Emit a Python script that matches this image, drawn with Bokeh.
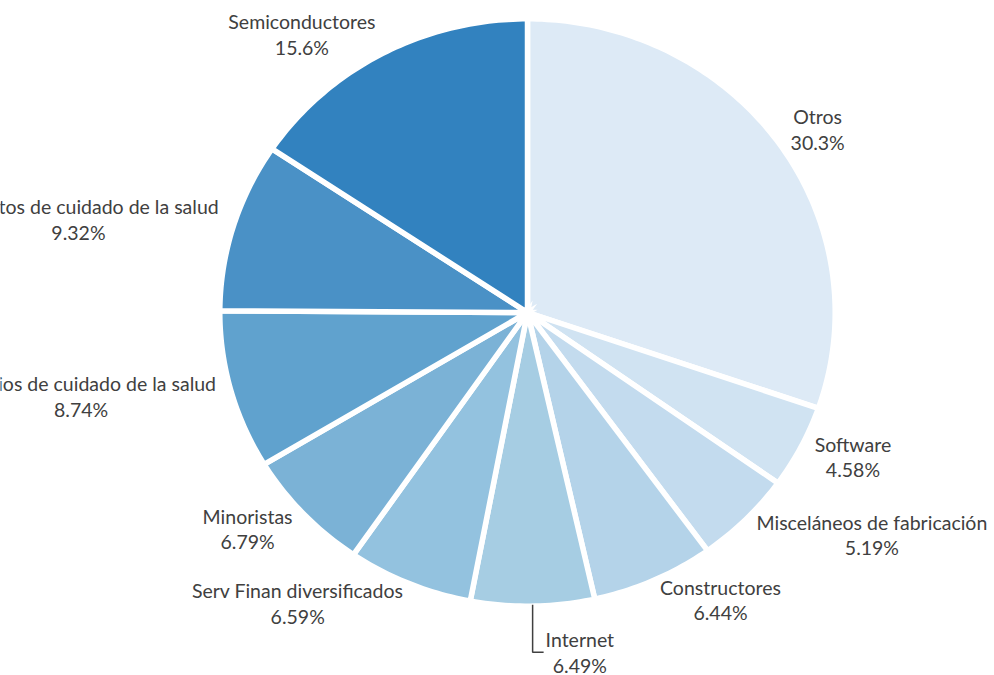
import math
from bokeh.plotting import figure
from bokeh.models import ColumnDataSource
from bokeh.embed import file_html
from bokeh.resources import INLINE
from bokeh.core.properties import value

# ---- data ----
categories = ["Otros", "Software", "Misceláneos de fabricación", "Constructores", "Internet",
              "Serv Finan diversificados", "Minoristas", "Servicios de cuidado de la salud",
              "Productos de cuidado de la salud", "Semiconductores"]
shares = [30.3, 4.58, 5.19, 6.44, 6.49, 6.59, 6.79, 8.74, 9.32, 15.6]
share_labels = ["30.3%", "4.58%", "5.19%", "6.44%", "6.49%", "6.59%", "6.79%", "8.74%", "9.32%", "15.6%"]
colors = ["#DDEAF6", "#D0E3F2", "#C3DBEE", "#B4D3E9", "#A6CDE3", "#93C2DF",
          "#7BB2D6", "#60A2CE", "#4A91C6", "#3282BF"]

# ---- layout (pixels) ----
W, H = 994, 675
CX, CY = 527, 312          # pie centre on canvas
RX, RY = 307.7, 293.7      # pie radii (slightly elliptical as in the reference)

p = figure(width=W, height=H, output_backend="svg", toolbar_location=None,
           x_range=(-CX / RX, (W - CX) / RX), y_range=(-(H - CY) / RY, CY / RY),
           min_border=0)
p.axis.visible = False
p.grid.visible = False
p.outline_line_color = None
p.background_fill_color = "white"
p.border_fill_color = "white"

total = sum(shares)
xs, ys, mids = [], [], []
cum = 0.0
for s in shares:
    a0 = cum / total * 2 * math.pi
    cum += s
    a1 = cum / total * 2 * math.pi
    n = max(8, int((a1 - a0) / (2 * math.pi) * 400))
    px = [0.0] + [math.sin(a0 + (a1 - a0) * i / n) for i in range(n + 1)]
    py = [0.0] + [math.cos(a0 + (a1 - a0) * i / n) for i in range(n + 1)]
    xs.append(px)
    ys.append(py)
    mids.append((a0 + a1) / 2)

p.patches(xs=xs, ys=ys, fill_color=colors, line_color="white", line_width=5.5,
          line_join="miter")

# ---- labels ----
lx, ly, anc, txt = [], [], [], []
lead_x, lead_y = [], []
for cat, lab, m in zip(categories, share_labels, mids):
    s, c = math.sin(m), math.cos(m)
    t = cat + "\n" + lab
    if abs(s) < 0.1:
        sx = s * 1.0
        y0 = c * 0.995
        y1 = c * 1.157
        lead_x.append([sx, sx, sx + 11 / RX])
        lead_y.append([y0, y1, y1])
        lx.append(sx + 13 / RX)
        ly.append(y1)
        anc.append("center_left")
    else:
        lx.append(s * 1.05)
        ly.append(c * 1.05 + c * 7 / RY)
        anc.append("center_left" if s > 0 else "center_right")
    txt.append(t)

if lead_x:
    p.multi_line(xs=lead_x, ys=lead_y, line_color="#404040", line_width=1.5)

src = ColumnDataSource(dict(x=lx, y=ly, text=txt, anchor=anc))
p.text(x="x", y="y", text="text", anchor="anchor", source=src, text_align="center",
       text_font=value("Lato"), text_font_size="19.5px", text_color="#404040",
       text_line_height=1.12)

open("out.html", "w").write(file_html(p, INLINE))
